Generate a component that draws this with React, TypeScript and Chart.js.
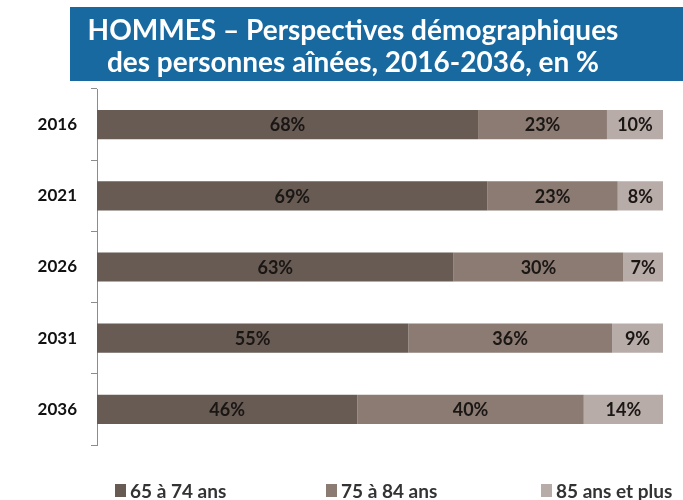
import React, { useEffect, useRef } from 'react';
import { Chart, registerables } from 'chart.js';

Chart.register(...registerables);

const categories = ['2016', '2021', '2026', '2031', '2036'];
const s65to74 = [68, 69, 63, 55, 46];
const s75to84 = [23, 23, 30, 36, 40];
const s85plus = [10, 8, 7, 9, 14];
const seriesNames = ['65 à 74 ans', '75 à 84 ans', '85 ans et plus'];
const seriesColors = ['#675b54', '#8b7b73', '#b7aca7'];
const titleLines = ['HOMMES – Perspectives démographiques', 'des personnes aînées, 2016-2036, en %'];

const FONT = 'Lato, "Open Sans", sans-serif';

export default function App() {
  const ref = useRef<HTMLCanvasElement>(null);

  useEffect(() => {
    if (!ref.current) return;
    const raw = [s65to74, s75to84, s85plus];
    const totals = categories.map((_, i) => raw.reduce((a, s) => a + s[i], 0));

    const labelPlugin = {
      id: 'segLabels',
      afterDatasetsDraw(chart: any) {
        const ctx = chart.ctx;
        ctx.save();
        ctx.font = 'bold 18px ' + FONT;
        ctx.fillStyle = '#1a1614';
        ctx.textAlign = 'center';
        ctx.textBaseline = 'middle';
        chart.data.datasets.forEach((_: any, di: number) => {
          const meta = chart.getDatasetMeta(di);
          meta.data.forEach((bar: any, i: number) => {
            const x = (bar.x + bar.base) / 2;
            ctx.fillText(raw[di][i] + '%', x, bar.y + 1);
          });
        });
        ctx.restore();
      },
    };

    const chart = new Chart(ref.current, {
      type: 'bar',
      data: {
        labels: categories,
        datasets: raw.map((arr, di) => ({
          label: seriesNames[di],
          data: arr.map((v, i) => (v / totals[i]) * 100),
          backgroundColor: seriesColors[di],
          borderWidth: 0,
          categoryPercentage: 1,
          barPercentage: 0.41,
        })),
      },
      options: {
        indexAxis: 'y',
        responsive: false,
        animation: false,
        layout: { padding: { left: 0, right: 20, top: 89, bottom: 55 } },
        plugins: {
          legend: { display: false },
          title: { display: false },
          tooltip: { enabled: false },
        },
        scales: {
          x: { stacked: true, min: 0, max: 100, display: false },
          y: {
            stacked: true,
            grid: {
              display: true,
              drawOnChartArea: false,
              drawTicks: true,
              tickLength: 6,
              color: '#8c8c8c',
              offset: true,
            },
            border: { display: true, color: '#8c8c8c', width: 1 },
            ticks: {
              color: '#111111',
              font: { family: FONT, weight: 'bold', size: 17 },
              padding: 14,
            },
            afterFit: (s: any) => {
              s.width = 97;
            },
          },
        },
      },
      plugins: [labelPlugin],
    } as any);
    return () => chart.destroy();
  }, []);

  const legendX = [115, 326, 541];

  return (
    <div style={{ position: 'absolute', left: 0, top: 0, width: 683, height: 500, background: '#fff', overflow: 'hidden' }}>
      <canvas ref={ref} width={683} height={500} style={{ position: 'absolute', left: 0, top: 0, display: 'block' }} />
      <div style={{ position: 'absolute', left: 70, top: 7, width: 613, height: 74, background: '#1769a0' }} />
      <div
        style={{
          position: 'absolute',
          left: 0,
          top: 13,
          width: 706,
          textAlign: 'center',
          color: '#ffffff',
          fontFamily: FONT,
          fontWeight: 'bold',
          fontSize: 28,
          lineHeight: '32px',
          whiteSpace: 'nowrap',
        }}
      >
        {titleLines.map((t, i) => (
          <div key={i}>{t}</div>
        ))}
      </div>
      {seriesNames.map((name, i) => (
        <div
          key={name}
          style={{
            position: 'absolute',
            left: legendX[i],
            top: 479,
            height: 22,
            display: 'flex',
            alignItems: 'center',
            fontFamily: FONT,
            fontWeight: 'bold',
            fontSize: 19,
            color: '#333333',
            whiteSpace: 'nowrap',
          }}
        >
          <span style={{ display: 'inline-block', width: 11, height: 13, background: seriesColors[i], marginRight: 4 }} />
          <span>{name}</span>
        </div>
      ))}
    </div>
  );
}
